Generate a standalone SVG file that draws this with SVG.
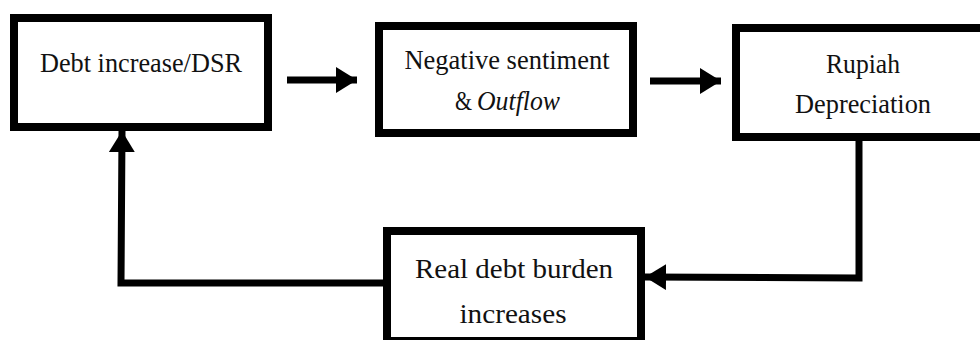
<svg xmlns="http://www.w3.org/2000/svg" width="980" height="340" viewBox="0 0 980 340">
<style>
.box{fill:#fff;stroke:#000;stroke-width:8}
.t{font-family:"Liberation Serif","DejaVu Serif",serif;font-size:28px;fill:#111;text-anchor:middle}
.s{text-anchor:start}
.c{fill:none;stroke:#000;stroke-width:7}
</style>
<defs>
<marker id="ah" viewBox="0 0 10 10" preserveAspectRatio="none" refX="10" refY="5" markerWidth="3" markerHeight="3.7" orient="auto" markerUnits="strokeWidth">
<path d="M0,0 L10,5 L0,10 Z" fill="#000"/>
</marker>
</defs>
<rect width="980" height="340" fill="#fff"/>
<g id="connectors">
<line class="c" x1="287" y1="80" x2="357" y2="80" marker-end="url(#ah)"/>
<line class="c" x1="650" y1="81" x2="721" y2="81" marker-end="url(#ah)"/>
<polyline class="c" points="859,141 859,278 645,277" marker-end="url(#ah)"/>
<polyline class="c" points="383,283 121,283 122,131" marker-end="url(#ah)"/>
</g>
<g id="node1">
<rect class="box" x="14" y="18" width="254" height="109"/>
<text class="t" x="141" y="72" textLength="202" lengthAdjust="spacingAndGlyphs">Debt increase/DSR</text>
</g>
<g id="node2">
<rect class="box" x="379" y="26" width="254" height="107"/>
<text class="t" x="507" y="69" textLength="205" lengthAdjust="spacingAndGlyphs">Negative sentiment</text>
<text class="t s" x="455" y="110" textLength="17" lengthAdjust="spacingAndGlyphs">&amp;</text>
<text class="t s" x="477" y="110" font-style="italic" textLength="83" lengthAdjust="spacingAndGlyphs">Outflow</text>
</g>
<g id="node3">
<rect class="box" x="736" y="28" width="260" height="109"/>
<text class="t" x="863" y="73" textLength="74" lengthAdjust="spacingAndGlyphs">Rupiah</text>
<text class="t" x="863" y="113" textLength="136" lengthAdjust="spacingAndGlyphs">Depreciation</text>
</g>
<g id="node4">
<rect class="box" x="387" y="231" width="254" height="110"/>
<text class="t" x="514" y="278" textLength="198" lengthAdjust="spacingAndGlyphs">Real debt burden</text>
<text class="t" x="513" y="323" textLength="107" lengthAdjust="spacingAndGlyphs">increases</text>
</g>
</svg>
